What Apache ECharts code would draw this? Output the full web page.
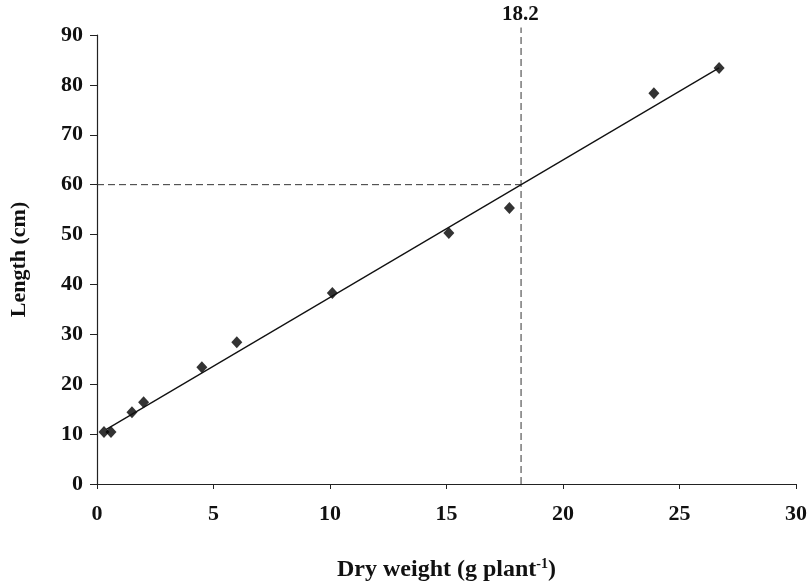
<!DOCTYPE html>
<html>
<head>
<meta charset="utf-8">
<script src="https://cdn.jsdelivr.net/npm/echarts@6/dist/echarts.min.js"></script>
<style>
  html, body { margin: 0; padding: 0; background: #fff; }
  #chart { width: 811px; height: 587px; }
</style>
</head>
<body>
<div id="chart"></div>
<script>
// Measured plants: dry weight (g per plant) and length (cm)
const dryWeight = [0.3, 0.6, 1.5, 2.0, 4.5, 6.0, 10.1, 15.1, 17.7, 23.9, 26.7];
const lengthCm  = [10.4, 10.4, 14.4, 16.4, 23.4, 28.4, 38.3, 50.3, 55.3, 78.3, 83.4];

// Linear fit: length = intercept + slope * dry weight
const fitIntercept = 9.85;
const fitSlope = 2.755;
const fitRange = [0.4, 26.7];

// Reference reading: 60 cm corresponds to 18.2 g
const refLength = 60;
const refWeight = 18.2;
const refTop = 91.5;

const xTicks = { min: 0, max: 30, interval: 5 };
const yTicks = { min: 0, max: 90, interval: 10 };

const fitLine = fitRange.map(x => [x, fitIntercept + fitSlope * x]);
const points = dryWeight.map((x, i) => [x, lengthCm[i]]);

const serif = 'Liberation Serif';
const dash = { type: [7, 4], color: '#333', width: 1 };

const chart = echarts.init(document.getElementById('chart'), null, { renderer: 'canvas' });
chart.setOption({
  animation: false,
  backgroundColor: '#fff',
  grid: { left: 95, right: 15, top: 35, bottom: 101, containLabel: false },
  xAxis: {
    type: 'value',
    min: xTicks.min, max: xTicks.max, interval: xTicks.interval,
    name: '{t|Dry weight (g plant}{s|-1}{t|)}',
    nameLocation: 'middle',
    nameGap: 73,
    nameTextStyle: {
      rich: {
        t: { fontFamily: serif, fontSize: 24, fontWeight: 'bold', color: '#111' },
        s: { fontFamily: serif, fontSize: 14, fontWeight: 'bold', color: '#111', verticalAlign: 'top', padding: [0, 0, 12, 0] }
      }
    },
    axisLine: { show: true, lineStyle: { color: '#222', width: 1.2 } },
    axisTick: { show: true, length: 5, lineStyle: { color: '#222' } },
    axisLabel: { fontFamily: serif, fontSize: 22, fontWeight: 'bold', color: '#111', margin: 19 },
    splitLine: { show: false }
  },
  yAxis: {
    type: 'value',
    min: yTicks.min, max: yTicks.max, interval: yTicks.interval,
    name: 'Length (cm)',
    nameLocation: 'middle',
    nameGap: 67,
    nameRotate: 90,
    nameTextStyle: { fontFamily: serif, fontSize: 22, fontWeight: 'bold', color: '#111' },
    axisLine: { show: true, lineStyle: { color: '#222', width: 1.2 } },
    axisTick: { show: true, length: 7, lineStyle: { color: '#222' } },
    axisLabel: { fontFamily: serif, fontSize: 22, fontWeight: 'bold', color: '#111', margin: 14 },
    splitLine: { show: false }
  },
  series: [
    {
      type: 'line',
      data: [[0, refLength], [refWeight, refLength]],
      symbol: 'none',
      lineStyle: dash,
      silent: true
    },
    {
      type: 'line',
      data: [[refWeight, 0], [refWeight, refTop]],
      symbol: 'none',
      clip: false,
      lineStyle: dash,
      endLabel: {
        show: true,
        formatter: String(refWeight),
        fontFamily: serif, fontSize: 21, fontWeight: 'bold', color: '#111',
        position: 'top',
        offset: [-27, -13]
      },
      silent: true
    },
    {
      type: 'line',
      data: fitLine,
      symbol: 'none',
      lineStyle: { color: '#111', width: 1.3 },
      silent: true
    },
    {
      type: 'scatter',
      data: points,
      symbol: 'diamond',
      symbolSize: [11, 12],
      itemStyle: { color: '#000' }
    }
  ]
});
</script>
</body>
</html>
